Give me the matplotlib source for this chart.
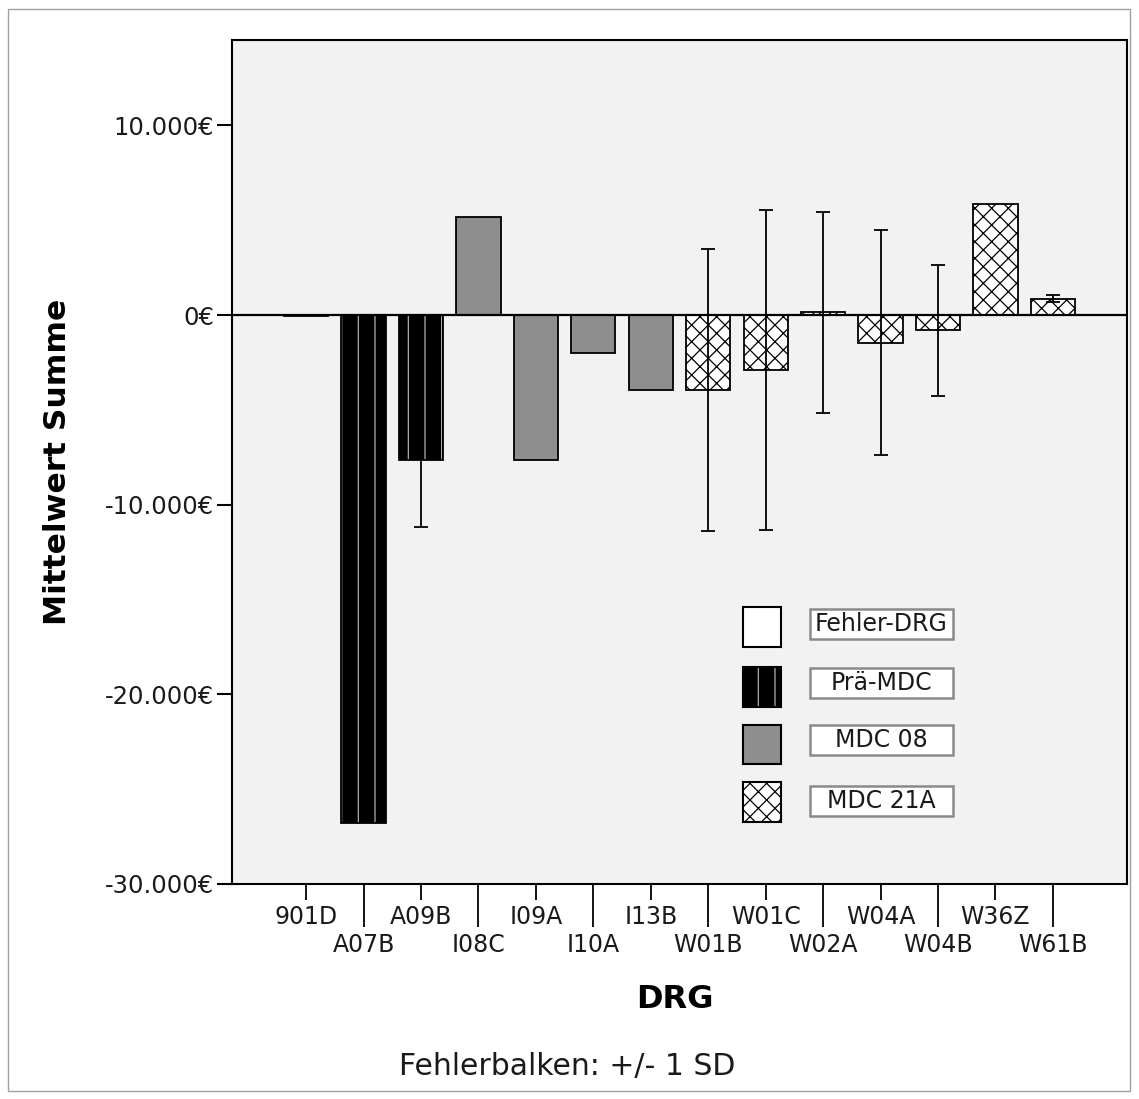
import matplotlib
matplotlib.use("Agg")
import matplotlib.pyplot as plt
from matplotlib.patches import Rectangle
import numpy as np

drg = ["901D", "A07B", "A09B", "I08C", "I09A", "I10A", "I13B",
       "W01B", "W01C", "W02A", "W04A", "W04B", "W36Z", "W61B"]
gruppe = ["Fehler-DRG", "Prä-MDC", "Prä-MDC", "MDC 08", "MDC 08", "MDC 08", "MDC 08",
          "MDC 21A", "MDC 21A", "MDC 21A", "MDC 21A", "MDC 21A", "MDC 21A", "MDC 21A"]
mittelwert = [-60, -26800, -7650, 5150, -7650, -2000, -3950,
              -3950, -2900, 150, -1450, -800, 5850, 850]
sd = [np.nan, np.nan, 3550, np.nan, np.nan, np.nan, np.nan,
      7450, 8450, 5300, 5950, 3450, np.nan, 180]

gruppen = ["Fehler-DRG", "Prä-MDC", "MDC 08", "MDC 21A"]
farbe = ["white", "black", "#8e8e8e", "white"]
muster = ["", "|", "", "xx"]
musterfarbe = ["black", "#b0b0b0", "black", "black"]

plt.rcParams['font.family'] = 'DejaVu Sans'
plt.rcParams['hatch.linewidth'] = 0.9

fig = plt.figure(figsize=(11.39, 10.99), dpi=100)
fig.patches.append(Rectangle((8 / 1139, 8 / 1099), 1122 / 1139, 1082 / 1099,
                             transform=fig.transFigure, fill=False,
                             edgecolor="#a0a0a0", lw=1))
ax = fig.add_axes([232 / 1139, 1 - 884 / 1099, 895 / 1139, 844 / 1099])
ax.set_facecolor("#f2f2f2")

x = np.arange(len(drg))
mw = np.array(mittelwert, dtype=float)
for g, fc, h, hc in zip(gruppen, farbe, muster, musterfarbe):
    m = np.array([gr == g for gr in gruppe])
    ax.bar(x[m], mw[m], width=0.77, color=fc, edgecolor=hc, hatch=h,
           linewidth=0, zorder=2)
    ax.bar(x[m], mw[m], width=0.77, fill=False, edgecolor="black",
           linewidth=1.3, zorder=2)

ax.axhline(0, color="black", lw=1.6, zorder=3)

# Fehlerbalken: bei schwarzen Balken dahinter, sonst davor
sd = np.array(sd)
ok = ~np.isnan(sd)
schwarz = np.array([gr == "Prä-MDC" for gr in gruppe])
for sel, z in [(ok & schwarz, 1.5), (ok & ~schwarz, 4)]:
    ax.errorbar(x[sel], mw[sel], yerr=sd[sel], fmt="none", ecolor="black",
                elinewidth=1.3, capsize=5, capthick=1.3, zorder=z)

ax.set_xlim(-1.29, 14.29)
ax.set_ylim(-30000, 14500)
yt = [-30000, -20000, -10000, 0, 10000]
ax.set_yticks(yt)
ax.set_yticklabels([f"{v:,}".replace(",", ".") + "€" if v != 0 else "0€" for v in yt])
ax.tick_params(axis="y", length=11, width=1.5, pad=2, labelsize=17.5, labelcolor="#1a1a1a")

ax.set_xticks(x[::2])
ax.set_xticklabels(drg[::2])
ax.set_xticks(x[1::2], minor=True)
ax.set_xticklabels(drg[1::2], minor=True)
ax.tick_params(axis="x", which="major", length=11.5, width=1.3, pad=3.5,
               labelsize=17, labelcolor="#1a1a1a")
ax.tick_params(axis="x", which="minor", length=31, width=1.3, pad=4,
               labelsize=17, labelcolor="#1a1a1a")

for s in ax.spines.values():
    s.set_linewidth(1.5)

ax.set_ylabel("Mittelwert Summe", fontsize=22.5, fontweight="bold")
ax.yaxis.set_label_coords(-0.179, 0.5)
ax.set_xlabel("DRG", fontsize=23, fontweight="bold")
ax.xaxis.set_label_coords(0.495, -0.118)

# Legende
swatch_y = [0.3045, 0.2334, 0.1653, 0.0972]
box_y = [0.308, 0.238, 0.1706, 0.0983]
for g, fc, h, hc, ys, yb in zip(gruppen, farbe, muster, musterfarbe, swatch_y, box_y):
    ax.add_patch(Rectangle((0.571, ys - 0.0235), 0.0425, 0.047, transform=ax.transAxes,
                           facecolor=fc, edgecolor=hc, hatch=h, lw=0, zorder=5))
    ax.add_patch(Rectangle((0.571, ys - 0.0235), 0.0425, 0.047, transform=ax.transAxes,
                           fill=False, edgecolor="black", lw=1.5, zorder=5))
    ax.add_patch(Rectangle((0.6458, yb - 0.0178), 0.1598, 0.0356, transform=ax.transAxes,
                           facecolor="white", edgecolor="#8a8a8a", lw=1.8, zorder=5))
    ax.text(0.7257, yb, g, transform=ax.transAxes, ha="center", va="center",
            fontsize=17, color="#1a1a1a", zorder=6)

fig.text(567 / 1139, 1 - 1066 / 1099, "Fehlerbalken: +/- 1 SD", ha="center",
         va="center", fontsize=21.5, color="#1a1a1a")

fig.savefig("out.png", dpi=100)
